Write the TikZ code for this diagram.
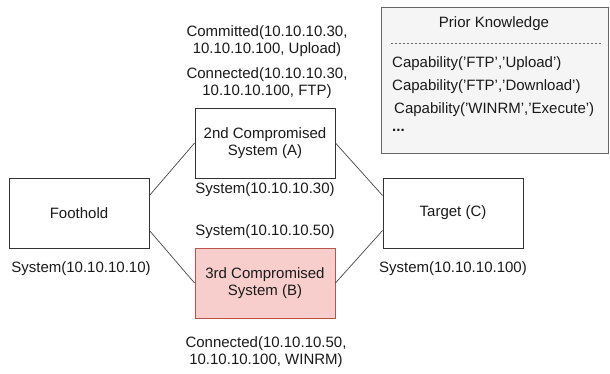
\documentclass[tikz,border=0pt]{standalone}
\usepackage{fontspec}
\setmainfont{Liberation Sans}
\newcommand{\sq}{\char39\relax}
\begin{document}
\begin{tikzpicture}[x=1pt, y=-1pt, font=\fontsize{15}{17.5}\selectfont]

  % Define Colors
  \definecolor{boxline}{HTML}{333333}
  \definecolor{redfill}{HTML}{F8CECC}
  \definecolor{redline}{HTML}{B85450}
  \definecolor{greyfill}{HTML}{F5F5F5}
  \definecolor{greyline}{HTML}{666666}
  \definecolor{linkgrey}{HTML}{444444}
  \definecolor{textgrey}{HTML}{1A1A1A}

  % Node styles
  \tikzstyle{sysbox}=[rectangle, draw=boxline, line width=0.9pt, fill=white, minimum width=140pt, minimum height=70pt, inner sep=0pt, align=center, text=textgrey]
  \tikzstyle{hotbox}=[sysbox, draw=redline, fill=redfill]
  \tikzstyle{infobox}=[rectangle, draw=greyline, line width=0.9pt, fill=greyfill, minimum width=227pt, minimum height=146pt, inner sep=0pt]
  \tikzstyle{fact}=[align=center, inner sep=0pt, text=textgrey]
  \tikzstyle{link}=[line width=0.7pt, linkgrey]

  \useasboundingbox (0,0) rectangle (610,373);

  % Nodes
  \node[sysbox] (foothold) at (79,213) {Foothold};
  \node[sysbox] (sys_a) at (265,143) {2nd Compromised\\System (A)};
  \node[hotbox] (sys_b) at (265,283) {3rd Compromised\\System (B)};
  \node[sysbox] (target) at (453,213) {Target (C)};

  % Links
  \draw[link] ([yshift=17.5pt]foothold.east) -- (sys_a.west);
  \draw[link] ([yshift=-17.5pt]foothold.east) -- (sys_b.west);
  \draw[link] (sys_a.east) -- ([yshift=17.5pt]target.west);
  \draw[link] (sys_b.east) -- ([yshift=-17.5pt]target.west);

  % Facts
  \node[fact] (f_commit) at (267,41) {Committed(10.10.10.30,\\10.10.10.100, Upload)};
  \node[fact] (f_conn_a) at (267,83) {Connected(10.10.10.30,\\10.10.10.100, FTP)};
  \node[fact] (f_sys_a) at (265,190) {System(10.10.10.30)};
  \node[fact] (f_sys_b) at (265,232) {System(10.10.10.50)};
  \node[fact] (f_sys_f) at (81,269) {System(10.10.10.10)};
  \node[fact] (f_sys_t) at (453,269) {System(10.10.10.100)};
  \node[fact] (f_conn_b) at (266,352) {Connected(10.10.10.50,\\10.10.10.100, WINRM)};

  % Prior knowledge
  \node[infobox] (prior) at (494.5,80) {};
  \node[fact] (prior_title) at (494,24) {Prior Knowledge};
  \coordinate (dash_l) at (391,43);
  \coordinate (dash_r) at (603,43);
  \draw[greyline, dashed, line width=0.6pt, dash pattern=on 2pt off 2pt] (dash_l) -- (dash_r);
  \node[fact, anchor=west] (cap_1) at (392,64) {Capability(\sq FTP\sq,\sq Upload\sq)};
  \node[fact, anchor=west] (cap_2) at (392,87) {Capability(\sq FTP\sq,\sq Download\sq)};
  \node[fact, anchor=west] (cap_3) at (394,110) {Capability(\sq WINRM\sq,\sq Execute\sq)};
  \node[fact, anchor=west] (cap_dots) at (392,130) {\textbf{...}};

\end{tikzpicture}
\end{document}
